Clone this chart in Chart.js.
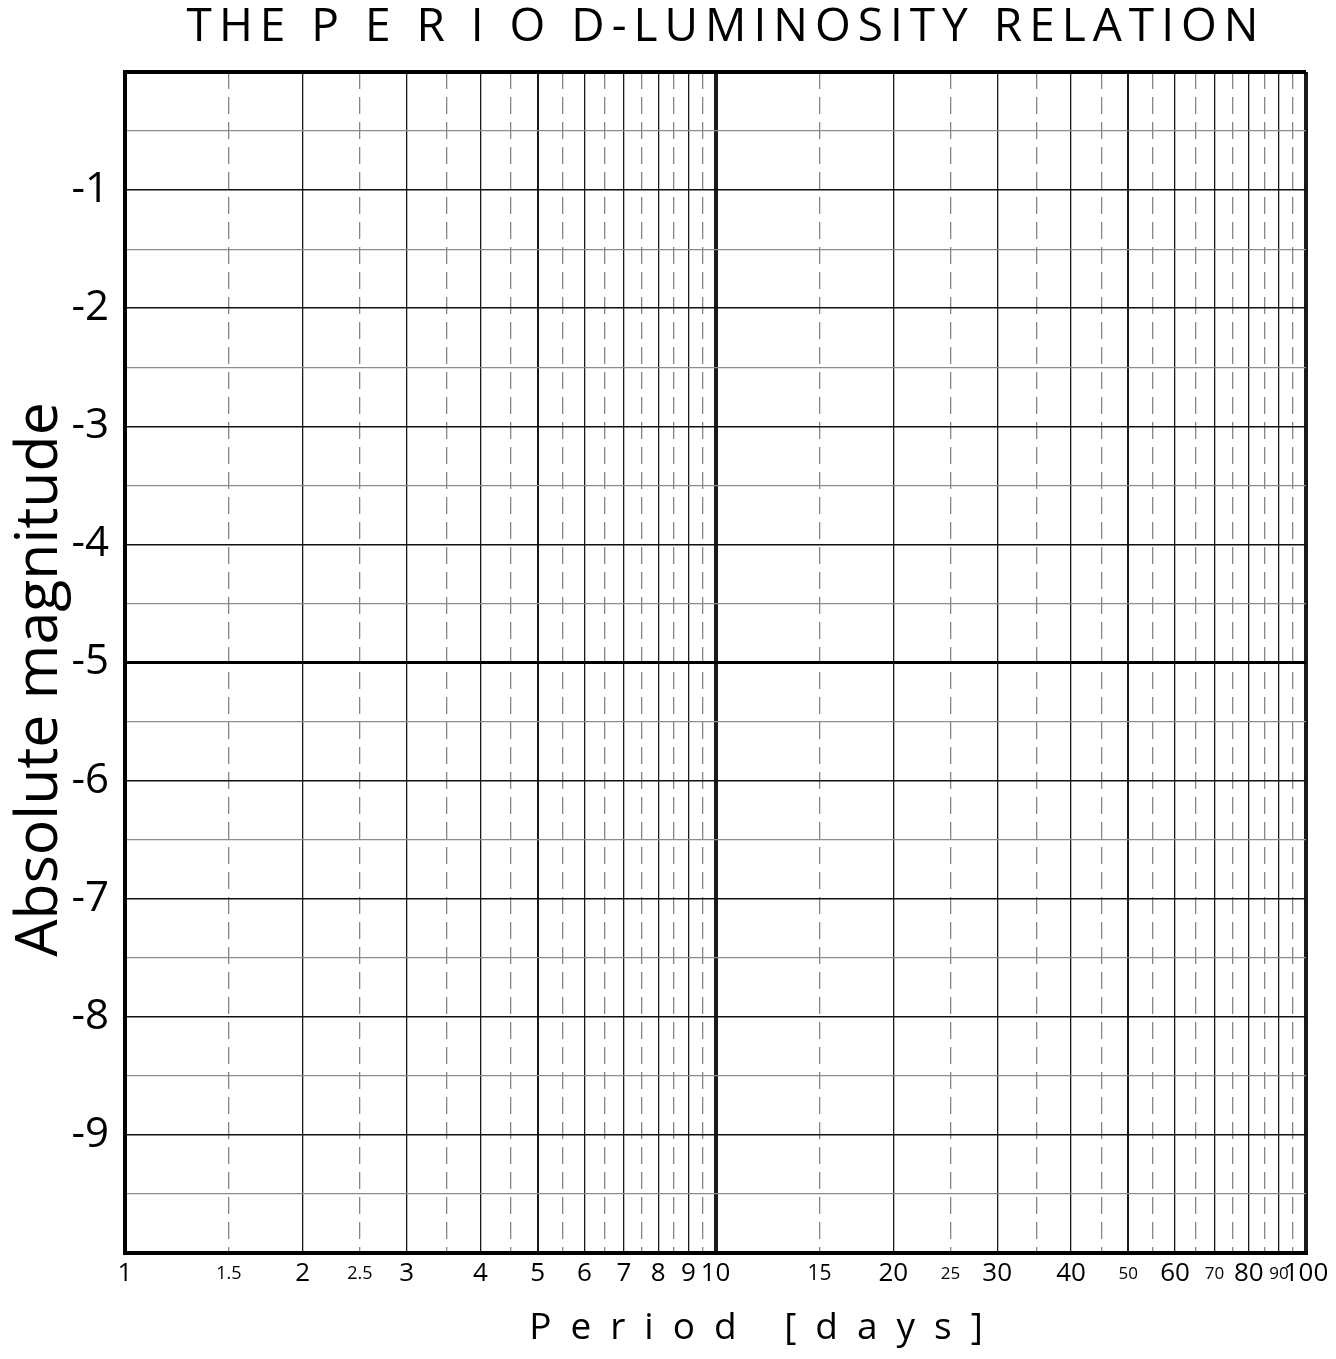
<!DOCTYPE html>
<html>
<head>
<meta charset="utf-8">
<title>The Period-Luminosity Relation</title>
<script src="https://cdn.jsdelivr.net/npm/chart.js@4.4.1/dist/chart.umd.min.js"></script>
<style>
  html, body { margin: 0; padding: 0; background: #fff; overflow: hidden; }
  #wrap { width: 1336px; height: 1359px; position: relative; }
</style>
</head>
<body>
<div id="wrap"><canvas id="plChart"></canvas></div>
<script>
// period axis (log): solid lines, dashed half-steps, printed labels
const periodLines = [1, 2, 3, 4, 5, 6, 7, 8, 9, 10, 20, 30, 40, 50, 60, 70, 80, 90, 100];
const periodHalfLines = [1.5, 2.5, 3.5, 4.5, 5.5, 6.5, 7.5, 8.5, 9.5, 15, 25, 35, 45, 55, 65, 75, 85, 95];
const periodLabels = [1, 1.5, 2, 2.5, 3, 4, 5, 6, 7, 8, 9, 10, 15, 20, 25, 30, 40, 50, 60, 70, 80, 90, 100];

// magnitude axis
const magnitudeEdges = [0, -10];
const magnitudeValues = [-1, -2, -3, -4, -5, -6, -7, -8, -9];
const magnitudeLabels = ['-1', '-2', '-3', '-4', '-5', '-6', '-7', '-8', '-9'];
const magnitudeHalves = [-0.5, -1.5, -2.5, -3.5, -4.5, -5.5, -6.5, -7.5, -8.5, -9.5];

const FONT = "'Open Sans', 'Noto Sans', sans-serif";

// label sizes for the smaller printed periods
const periodLabelSize = { 1.5: 18, 2.5: 18, 15: 21, 25: 17, 50: 17, 70: 17, 90: 17 };

// letter spacing / placement tweaks for the tracked titles
const tracking = {
  title: { spacing: '7px', dx: 73, dy: 0 },
  x: { spacing: '19px', dx: 50, dy: 0 },
  y: { spacing: '0px', dx: 0, dy: 17 },
};

function wrapDraw(target, method, ctx, opts) {
  if (!target || target['_tracked_' + method]) return;
  const orig = target[method].bind(target);
  target[method] = function (...args) {
    ctx.save();
    if ('letterSpacing' in ctx) ctx.letterSpacing = opts.spacing;
    ctx.translate(opts.dx, opts.dy);
    orig(...args);
    ctx.restore();
  };
  target['_tracked_' + method] = true;
}

const trackedText = {
  id: 'trackedText',
  beforeDraw(chart) {
    wrapDraw(chart.titleBlock, 'draw', chart.ctx, tracking.title);
    wrapDraw(chart.scales.x, 'drawTitle', chart.ctx, tracking.x);
    wrapDraw(chart.scales.y, 'drawTitle', chart.ctx, tracking.y);
  },
};

function periodGridWidth(value) {
  if (!periodLines.includes(value)) return 0;
  if (value === 1 || value === 10 || value === 100) return 4;
  if (value === 5 || value === 50) return 2;
  return 1.3;
}

function magnitudeGridStyle(value) {
  if (magnitudeEdges.includes(value)) return { w: 4, c: '#000' };
  if (value === -5) return { w: 3, c: '#000' };
  if (magnitudeValues.includes(value)) return { w: 1.6, c: '#111' };
  return { w: 1.2, c: '#8c8c8c' };
}

const ctx = document.getElementById('plChart').getContext('2d');

new Chart(ctx, {
  type: 'scatter',
  data: { datasets: [] },
  plugins: [trackedText],
  options: {
    responsive: true,
    maintainAspectRatio: false,
    animation: false,
    layout: { padding: { left: 0, right: 30, top: 0, bottom: 0 } },
    plugins: {
      legend: { display: false },
      tooltip: { enabled: false },
      title: {
        display: true,
        text: 'THE P E R I O D-LUMINOSITY RELATION',
        color: '#000',
        font: { family: FONT, size: 46, weight: 'normal', lineHeight: '52px' },
        padding: { top: 2, bottom: 18 },
      },
    },
    scales: {
      x: {
        type: 'logarithmic',
        position: 'bottom',
        min: 1,
        max: 100,
        afterBuildTicks: (scale) => { scale.ticks = periodLabels.map((v) => ({ value: v })); },
        afterFit: (scale) => { scale.height = 106; },
        grid: {
          drawTicks: false,
          color: '#1a1a1a',
          lineWidth: (c) => periodGridWidth(c.tick ? c.tick.value : 0),
        },
        border: { display: true, color: '#000', width: 4 },
        ticks: {
          autoSkip: false,
          maxRotation: 0,
          minRotation: 0,
          padding: 5,
          color: '#000',
          font: (c) => ({
            family: FONT,
            size: c.tick && periodLabelSize[c.tick.value] ? periodLabelSize[c.tick.value] : 26,
            lineHeight: '32px',
          }),
          callback: (value) => (periodLabels.includes(value) ? String(value) : ''),
        },
        title: {
          display: true,
          text: 'Period [days]',
          color: '#000',
          font: { family: FONT, size: 37, lineHeight: '44px' },
          padding: { top: 0, bottom: 9 },
        },
      },
      xDash: {
        type: 'logarithmic',
        position: 'bottom',
        min: 1,
        max: 100,
        afterBuildTicks: (scale) => { scale.ticks = periodHalfLines.map((v) => ({ value: v })); },
        grid: { drawTicks: false, color: '#858585', lineWidth: 1.3 },
        border: { display: false, dash: [17, 8] },
        ticks: { display: false },
        title: { display: false },
      },
      y: {
        type: 'linear',
        position: 'left',
        min: -10,
        max: 0,
        afterBuildTicks: (scale) => {
          const vals = [...magnitudeEdges, ...magnitudeValues, ...magnitudeHalves].sort((a, b) => a - b);
          scale.ticks = vals.map((v) => ({ value: v }));
        },
        afterFit: (scale) => { scale.width = 125; },
        grid: {
          drawTicks: false,
          color: (c) => magnitudeGridStyle(c.tick ? c.tick.value : 0).c,
          lineWidth: (c) => magnitudeGridStyle(c.tick ? c.tick.value : 0).w,
        },
        border: { display: true, color: '#000', width: 4 },
        ticks: {
          padding: 16,
          color: '#000',
          font: { family: FONT, size: 42 },
          callback: (value) => {
            const i = magnitudeValues.indexOf(value);
            return i >= 0 ? magnitudeLabels[i] : '';
          },
        },
        title: {
          display: true,
          text: 'Absolute magnitude',
          color: '#000',
          font: { family: FONT, size: 59, lineHeight: 1.2 },
          padding: { top: 5, bottom: 0 },
        },
      },
    },
  },
});
</script>
</body>
</html>
